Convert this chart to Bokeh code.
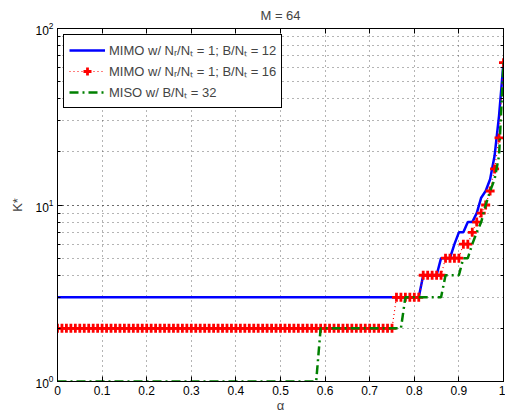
from bokeh.plotting import figure
from bokeh.models import (LogAxis, LinearAxis, FixedTicker, LogTicker, Legend,
                          LegendItem, Range1d, CustomJSTickFormatter)
from bokeh.embed import file_html
from bokeh.resources import INLINE

# ---- data ----
alpha = [round(i * 0.01, 2) for i in range(101)]
k_mimo_b12 = [3] * 82 + [4] * 4 + [5] * 3 + [6, 7, 7, 8, 8, 9, 11, 12, 14, 19, 32, 64]
k_mimo_b16 = [2] * 76 + [3] * 6 + [4] * 5 + [5] * 4 + [6] * 2 + [7, 8, 9, 10, 12, 16, 24, 64]
k_miso_b32 = [1] * 59 + [2] * 19 + [3] * 9 + [4] * 4 + [5, 5, 6, 7, 8, 10, 12, 14, 19, 64]

x_ticks = [0, 0.1, 0.2, 0.3, 0.4, 0.5, 0.6, 0.7, 0.8, 0.9, 1.0]
x_tick_labels = ["0", "0.1", "0.2", "0.3", "0.4", "0.5", "0.6", "0.7", "0.8", "0.9", "1"]
series_labels = [
    "MIMO w/ N\u1d63/N\u209c = 1; B/N\u209c = 12",
    "MIMO w/ N\u1d63/N\u209c = 1; B/N\u209c = 16",
    "MISO w/ B/N\u209c = 32",
]
title_text = "M = 64"
x_label = "\u03b1"
y_label = "K*"

FONT = "Liberation Sans"

p = figure(width=505, height=415, output_backend="svg", toolbar_location=None,
           y_axis_type="log", x_range=Range1d(0, 1), y_range=Range1d(1, 100),
           min_border_left=57, min_border_right=2, min_border_top=0,
           min_border_bottom=30)

p.title.text = title_text
p.title.align = "center"
p.title.text_font = FONT
p.title.text_font_style = "normal"
p.title.text_font_size = "13px"
p.title.offset = 0
p.title.standoff = 11

p.outline_line_color = "black"
p.outline_line_width = 1
p.outline_line_alpha = 1
p.background_fill_color = "white"
p.border_fill_color = "white"

# grids
p.xgrid.ticker = FixedTicker(ticks=x_ticks)
for g in (p.xgrid, p.ygrid):
    g.grid_line_color = "#444444"
    g.grid_line_dash = "1 4"
    g.grid_line_alpha = 0.8
p.ygrid.minor_grid_line_color = "#444444"
p.ygrid.minor_grid_line_dash = "1 4"
p.ygrid.minor_grid_line_alpha = 0.8

# axes
xa = p.xaxis[0]
xa.ticker = FixedTicker(ticks=x_ticks, minor_ticks=[])
xa.major_label_overrides = {t: l for t, l in zip(x_ticks, x_tick_labels)}
ya = p.yaxis[0]
for ax in (xa, ya):
    ax.major_tick_in = 5
    ax.major_tick_out = 0
    ax.minor_tick_in = 3
    ax.minor_tick_out = 0
    ax.axis_line_color = "black"
    ax.major_label_text_font = FONT
    ax.major_label_text_font_size = "12px"
    ax.major_label_text_color = "black"
    ax.axis_label_text_font = FONT
    ax.axis_label_text_font_style = "normal"
    ax.axis_label_text_font_size = "13px"
xa.axis_label = x_label
xa.major_label_standoff = 4
xa.axis_label_standoff = 0
ya.axis_label = y_label
ya.major_label_standoff = 4
ya.axis_label_standoff = 7

top = LinearAxis(ticker=FixedTicker(ticks=x_ticks, minor_ticks=[]),
                 formatter=CustomJSTickFormatter(code="return ''"), major_tick_in=5,
                 major_tick_out=0, minor_tick_in=0, minor_tick_out=0,
                 major_label_standoff=0)
right = LogAxis(ticker=LogTicker(), formatter=CustomJSTickFormatter(code="return ''"),
                major_tick_in=5, major_tick_out=0, minor_tick_in=3,
                minor_tick_out=0, major_label_standoff=0)
p.add_layout(top, "above")
p.add_layout(right, "right")

# series
r1 = p.line(alpha, k_mimo_b12, line_color="#0000ff", line_width=2.5)
r2l = p.line(alpha, k_mimo_b16, line_color="#ff0000", line_width=1.2, line_dash="1 3")
r2m = p.scatter(alpha, k_mimo_b16, marker="cross", size=9, line_color="#ff0000",
                line_width=2.8)
r3 = p.line(alpha, k_miso_b32, line_color="#008000", line_width=2.5,
            line_dash="9 4 2 4")

legend = Legend(items=[
    LegendItem(label=series_labels[0], renderers=[r1]),
    LegendItem(label=series_labels[1], renderers=[r2l, r2m]),
    LegendItem(label=series_labels[2], renderers=[r3]),
], location="top_left")
legend.border_line_color = "black"
legend.border_line_width = 1
legend.border_line_alpha = 1
legend.background_fill_alpha = 1
legend.label_text_font = FONT
legend.label_text_font_size = "13px"
legend.glyph_width = 36
legend.glyph_height = 20
legend.label_height = 20
legend.label_standoff = 4
legend.spacing = 1
legend.padding = 5
legend.margin = 6
p.add_layout(legend)

open("out.html", "w").write(file_html(p, INLINE))
